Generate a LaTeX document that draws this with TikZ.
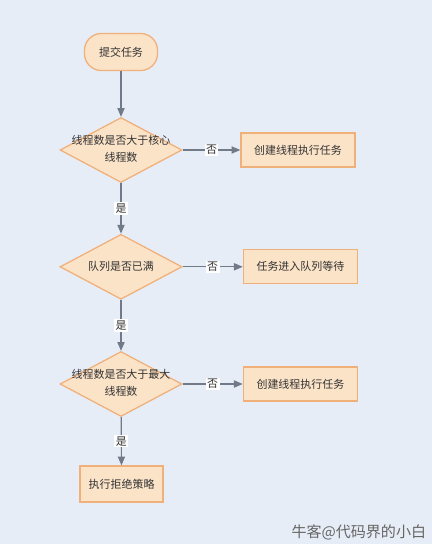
\documentclass[tikz,border=0pt]{standalone}
\usepackage{fontspec}
\usepackage{xcolor}
\usepackage{tikz}
\usetikzlibrary{positioning, shapes.geometric, arrows.meta}

\newfontfamily\cjk{Noto Sans CJK SC}
\definecolor{bgblue}{HTML}{E7EDF6}
\definecolor{boxfill}{HTML}{FBE3C8}
\definecolor{boxline}{HTML}{F0B07A}
\definecolor{flowgray}{HTML}{707A88}
\definecolor{txtgray}{HTML}{333333}

% zero width text for the decision shapes
\newcommand{\dtext}[1]{\smash{\makebox[0pt]{\raisebox{-0.25em}{\begin{tabular}{@{}c@{}}#1\end{tabular}}}}}

\begin{document}
\begin{tikzpicture}[
    every node/.style={font=\cjk\fontsize{7.8}{12}\selectfont, text=txtgray},
    startbox/.style={draw=boxline, fill=boxfill, line width=0.9pt, rectangle, rounded corners=0.42cm, minimum width=1.825cm, minimum height=0.925cm},
    taskbox/.style={draw=boxline, fill=boxfill, line width=0.9pt, rectangle, minimum width=2.85cm, minimum height=0.85cm},
    decision/.style={draw=boxline, fill=boxfill, line width=0.9pt, diamond, inner sep=0pt, minimum width=3.05cm, minimum height=1.625cm},
    flow/.style={draw=flowgray, line width=0.8pt, -{Triangle[length=2.2mm, width=1.8mm]}},
    answer/.style={fill=white, inner sep=1pt}
  ]
      % Background
      \fill[bgblue] (0, 0) rectangle (10.8, -13.6);
      \useasboundingbox (0, 0) rectangle (10.8, -13.6);

      % Start
      \node[startbox] (submit) at (3.025, -1.3) {提交任务};

      % Decisions
      \node[decision] (core) at (3.025, -3.75) {\dtext{线程数是否大于核心\\线程数}};
      \node[decision] (queue) at (3.025, -6.67) {\dtext{队列是否已满}};
      \node[decision] (max) at (3.025, -9.6) {\dtext{线程数是否大于最大\\线程数}};

      % Actions
      \node[taskbox] (newcore) at (7.45, -3.75) {创建线程执行任务};
      \node[taskbox] (enqueue) at (7.51, -6.67) {任务进入队列等待};
      \node[taskbox] (newmax) at (7.51, -9.6) {创建线程执行任务};
      \node[taskbox, minimum width=2.075cm, minimum height=0.9cm] (reject) at (3.04, -12.1) {执行拒绝策略};

      % Arrows
      \draw[flow] (submit) -- (core);
      \draw[flow] (core) -- node[answer] {是} (queue);
      \draw[flow] (queue) -- node[answer] {是} (max);
      \draw[flow] (max) -- node[answer] {是} (reject);
      \draw[flow] (core) -- node[answer] {否} (newcore);
      \draw[flow] (queue) -- node[answer] {否} (enqueue);
      \draw[flow] (max) -- node[answer] {否} (newmax);

      % Watermark
      \node[font=\cjk\fontsize{10.7}{12}\selectfont, text=black!60] (mark) at (8.97, -13.32) {牛客@代码界的小白};
\end{tikzpicture}
\end{document}
